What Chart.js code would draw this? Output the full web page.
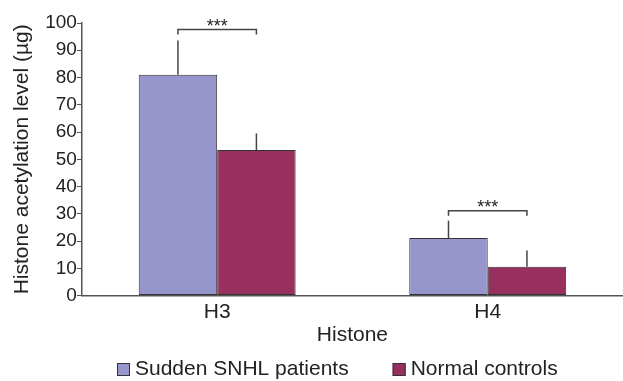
<!DOCTYPE html>
<html>
<head>
<meta charset="utf-8">
<script src="https://cdn.jsdelivr.net/npm/chart.js@4.4.0/dist/chart.umd.min.js"></script>
<style>
  html, body { margin: 0; padding: 0; background: #fff; }
  #wrap { width: 623px; height: 381px; }
</style>
</head>
<body>
<div id="wrap"><canvas id="myChart"></canvas></div>
<script>
const categories = ["H3", "H4"];
const seriesNames = ["Sudden SNHL patients", "Normal controls"];
const patientValues = [81, 21.1];
const patientSD = [12.6, 6.4];
const controlValues = [53.4, 10.6];
const controlSD = [6.1, 5.9];
const sigLevels = [97.6, 31.1];
const sigLabels = ["***", "***"];
const yTicks = [0, 10, 20, 30, 40, 50, 60, 70, 80, 90, 100];

const FONT = "'Liberation Sans', Arial, sans-serif";

// error bars (no caps) + significance brackets
const errorBars = {
  id: "errorBars",
  afterDatasetsDraw(chart) {
    const ctx = chart.ctx;
    const y = chart.scales.y;
    const sds = [patientSD, controlSD];
    ctx.save();
    ctx.strokeStyle = "#444";
    ctx.lineWidth = 1.5;
    chart.data.datasets.forEach(function (ds, d) {
      const meta = chart.getDatasetMeta(d);
      meta.data.forEach(function (bar, i) {
        const top = y.getPixelForValue(ds.data[i] + sds[d][i]);
        ctx.beginPath();
        ctx.moveTo(bar.x, bar.y);
        ctx.lineTo(bar.x, top);
        ctx.stroke();
      });
    });
    const m0 = chart.getDatasetMeta(0);
    const m1 = chart.getDatasetMeta(1);
    ctx.fillStyle = "#222";
    ctx.font = "18px " + FONT;
    ctx.textAlign = "center";
    ctx.textBaseline = "alphabetic";
    categories.forEach(function (c, i) {
      const x0 = m0.data[i].x;
      const x1 = m1.data[i].x;
      const yy = y.getPixelForValue(sigLevels[i]);
      ctx.beginPath();
      ctx.moveTo(x0, yy + 5);
      ctx.lineTo(x0, yy);
      ctx.lineTo(x1, yy);
      ctx.lineTo(x1, yy + 5);
      ctx.stroke();
      ctx.fillText(sigLabels[i], (x0 + x1) / 2, yy + 2);
    });
    ctx.restore();
  }
};

// legend drawn by hand so box/text spacing matches the figure
const bottomLegend = {
  id: "bottomLegend",
  afterDraw(chart) {
    const ctx = chart.ctx;
    ctx.save();
    ctx.font = "21px " + FONT;
    ctx.textBaseline = "middle";
    ctx.textAlign = "left";
    let x = 117;
    const yMid = 369;
    chart.data.datasets.forEach(function (ds) {
      ctx.fillStyle = ds.backgroundColor;
      ctx.fillRect(x, yMid - 6, 13, 13);
      ctx.strokeStyle = "#333";
      ctx.lineWidth = 1;
      ctx.strokeRect(x + 0.5, yMid - 5.5, 12, 12);
      ctx.fillStyle = "#222";
      ctx.fillText(ds.label, x + 18, yMid);
      x += 18 + ctx.measureText(ds.label).width + 44;
    });
    ctx.restore();
  }
};

document.addEventListener("DOMContentLoaded", function () {
  new Chart(document.getElementById("myChart"), {
    type: "bar",
    data: {
      labels: categories,
      datasets: [
        {
          label: seriesNames[0],
          data: patientValues,
          backgroundColor: "#9696cc",
          borderColor: "#333",
          borderWidth: 1,
          borderSkipped: false,
          barPercentage: 1,
          categoryPercentage: 0.58,
        },
        {
          label: seriesNames[1],
          data: controlValues,
          backgroundColor: "#97305f",
          borderColor: "#333",
          borderWidth: 1,
          borderSkipped: false,
          barPercentage: 1,
          categoryPercentage: 0.58,
        },
      ],
    },
    options: {
      responsive: true,
      maintainAspectRatio: false,
      animation: false,
      layout: { padding: { top: 23, right: 0, left: 10, bottom: 33 } },
      plugins: {
        tooltip: { enabled: false },
        legend: { display: false },
      },
      scales: {
        x: {
          grid: { display: false, drawTicks: false },
          border: { color: "#555", width: 1.5 },
          ticks: { color: "#222", font: { family: FONT, size: 21 }, padding: 4 },
          title: {
            display: true,
            text: "Histone",
            color: "#222",
            font: { family: FONT, size: 21 },
            padding: { top: -6, bottom: 0 },
          },
        },
        y: {
          min: 0,
          max: 100,
          afterBuildTicks: function (axis) {
            axis.ticks = yTicks.map(function (v) { return { value: v }; });
          },
          grid: { drawOnChartArea: false, drawTicks: true, tickLength: 5, color: "#555" },
          border: { color: "#555", width: 1.5 },
          ticks: { color: "#222", font: { family: FONT, size: 19 }, padding: 0, autoSkip: false },
          title: {
            display: true,
            text: "Histone acetylation level (µg)",
            color: "#222",
            font: { family: FONT, size: 21 },
            padding: { top: 0, bottom: 10 },
          },
        },
      },
    },
    plugins: [errorBars, bottomLegend],
  });
});
</script>
</body>
</html>
